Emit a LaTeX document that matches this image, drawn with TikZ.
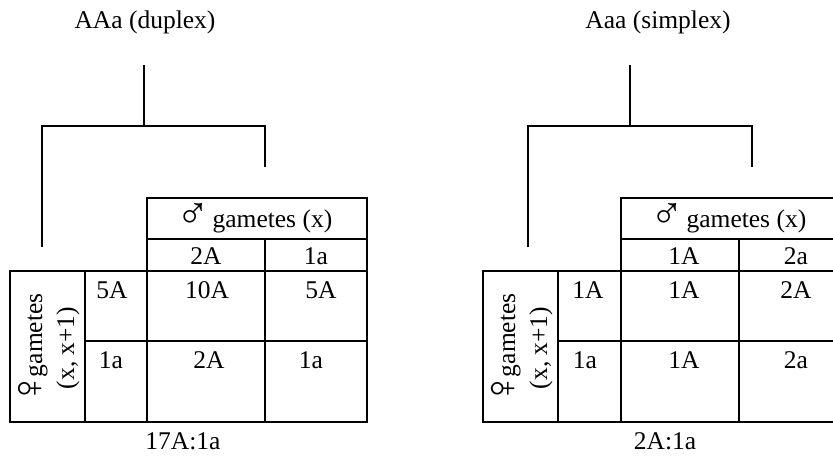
\documentclass[tikz,border=0pt]{standalone}
\usepackage{fontspec}
\setmainfont{Liberation Serif}
\newcommand{\male}{\hspace{-3pt}\raisebox{-1.5pt}{\scalebox{1.75}{♂}}\hspace{-4pt}}
\newcommand{\female}{\hspace{-3pt}\raisebox{-1.5pt}{\scalebox{1.75}{♀}}\hspace{-5pt}}
\begin{document}
\begin{tikzpicture}[x=1pt,y=-1pt,
  tree/.style={line width=1.4pt},
  grid/.style={line width=2pt},
  txt/.style={inner sep=0pt,font=\fontsize{25.5}{30}\selectfont},
  lab/.style={inner sep=0pt,font=\fontsize{25.5}{32}\selectfont,align=center}]
\useasboundingbox (0,0) rectangle (833,456);
\clip (0,0) rectangle (833,456);
% ---------- left: duplex ----------
\node[txt] (t1) at (145,22) {AAa (duplex)};
\coordinate (a1) at (144,65);
\coordinate (a2) at (144,126);
\coordinate (a3) at (42,126);
\coordinate (a4) at (265,126);
\coordinate (a5) at (42,247);
\coordinate (a6) at (265,167);
\draw[tree] (a1) -- (a2);
\draw[tree] (a5) -- (a3) -- (a4) -- (a6);
\draw[grid] (147,198) rectangle (367,271);
\draw[grid] (147,239) -- (367,239);
\draw[grid] (265,239) -- (265,422);
\draw[grid] (10,271) rectangle (367,422);
\draw[grid] (85,271) -- (85,422);
\draw[grid] (147,271) -- (147,422);
\draw[grid] (85,341) -- (367,341);
\node[txt] (m1) at (256,218) {\male\ gametes (x)};
\node[lab,rotate=90] (f1) at (49,348) {\female gametes\\(x, x+1)};
\node[txt] (h11) at (206,256) {2A};
\node[txt] (h12) at (316,256) {1a};
\node[txt] (r11) at (112,290) {5A};
\node[txt] (r12) at (111,360) {1a};
\node[txt] (c111) at (207,290) {10A};
\node[txt] (c112) at (321,290) {5A};
\node[txt] (c121) at (209,360) {2A};
\node[txt] (c122) at (311,360) {1a};
\node[txt] (s1) at (183,441) {17A:1a};
% ---------- right: simplex ----------
\node[txt] (t2) at (658,22) {Aaa (simplex)};
\coordinate (b1) at (630,65);
\coordinate (b2) at (630,126);
\coordinate (b3) at (528,126);
\coordinate (b4) at (752,126);
\coordinate (b5) at (528,247);
\coordinate (b6) at (752,167);
\draw[tree] (b1) -- (b2);
\draw[tree] (b5) -- (b3) -- (b4) -- (b6);
\draw[grid] (621,198) rectangle (841,271);
\draw[grid] (621,239) -- (841,239);
\draw[grid] (739,239) -- (739,422);
\draw[grid] (483,271) rectangle (841,422);
\draw[grid] (558,271) -- (558,422);
\draw[grid] (621,271) -- (621,422);
\draw[grid] (558,341) -- (841,341);
\node[txt] (m2) at (730,218) {\male\ gametes (x)};
\node[lab,rotate=90] (f2) at (522,348) {\female gametes\\(x, x+1)};
\node[txt] (h21) at (684,256) {1A};
\node[txt] (h22) at (796,256) {2a};
\node[txt] (r21) at (588,290) {1A};
\node[txt] (r22) at (585,360) {1a};
\node[txt] (c211) at (684,290) {1A};
\node[txt] (c212) at (796,290) {2A};
\node[txt] (c221) at (684,360) {1A};
\node[txt] (c222) at (796,360) {2a};
\node[txt] (s2) at (665,441) {2A:1a};
\end{tikzpicture}
\end{document}
